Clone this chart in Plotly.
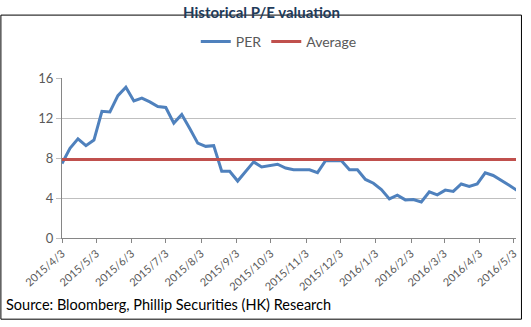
import plotly.graph_objects as go
import pandas as pd

start_date = "2015-04-03"
n_weeks = 58
per_values = [
    7.47, 9.00, 9.94, 9.26, 9.82, 12.71, 12.64, 14.28, 15.12, 13.75,
    14.03, 13.65, 13.18, 13.09, 11.52, 12.39, 10.98, 9.51, 9.19, 9.26,
    6.69, 6.69, 5.71, 6.69, 7.63, 7.12, 7.28, 7.40, 7.02, 6.84,
    6.84, 6.84, 6.55, 7.75, 7.75, 7.75, 6.84, 6.84, 5.87, 5.49,
    4.86, 3.92, 4.29, 3.82, 3.86, 3.61, 4.64, 4.33, 4.80, 4.67,
    5.42, 5.18, 5.42, 6.53, 6.27, 5.80, 5.30, 4.76,
]
average_value = 7.86
tick_dates = pd.date_range("2015-04-03", periods=14, freq=pd.DateOffset(months=1))
tick_labels = [f"{d.year}/{d.month}/{d.day}" for d in tick_dates]
y_ticks = [0, 4, 8, 12, 16]

dates = pd.date_range(start_date, periods=n_weeks, freq="7D")
avg_values = [average_value] * len(dates)

fig = go.Figure()
fig.add_trace(go.Scatter(x=dates, y=per_values, mode="lines", name="PER",
                         line=dict(color="#4F81BD", width=3)))
fig.add_trace(go.Scatter(x=dates, y=avg_values, mode="lines", name="Average",
                         line=dict(color="#C0504D", width=3)))

font_fam = "Lato, 'Open Sans', sans-serif"
fig.update_layout(
    width=531, height=327,
    margin=dict(l=62, r=12, t=68, b=89),
    paper_bgcolor="white", plot_bgcolor="white",
    font=dict(family=font_fam, color="#595959"),
    title=dict(text="<b>Historical P/E valuation</b>", x=(182 + 341) / 2 / 531, xanchor="center",
               y=1 - 13 / 327, yanchor="middle",
               font=dict(size=15, color="#1F3B5A", family=font_fam)),
    showlegend=True,
    legend=dict(orientation="h", xref="container", yref="container",
                x=0.525, xanchor="center", y=1 - 42 / 327, yanchor="middle",
                font=dict(size=14, color="#595959"), entrywidth=0,
                itemwidth=30, bgcolor="rgba(0,0,0,0)"),
    xaxis=dict(type="date", range=[dates[0], pd.Timestamp("2016-05-05")],
               tickvals=tick_dates, ticktext=tick_labels, tickangle=-42,
               tickfont=dict(size=11, color="#595959"),
               showgrid=False, showline=True, linecolor="#868686", linewidth=1,
               ticks="outside", ticklen=4, tickcolor="#868686", zeroline=False),
    yaxis=dict(range=[0, 16], tickvals=y_ticks,
               tickfont=dict(size=13, color="#595959"),
               showgrid=True, gridcolor="#BFBFBF", gridwidth=1,
               showline=True, linecolor="#868686", linewidth=1,
               ticks="outside", ticklen=5, tickcolor="#BFBFBF", zeroline=False),
)

fig.add_shape(type="rect", xref="paper", yref="paper",
              x0=(0.5 - 62) / 457, x1=(524.5 - 62) / 457,
              y0=(238 - 324.5) / 170, y1=(238 - 0.5) / 170,
              line=dict(color="black", width=1), fillcolor="rgba(0,0,0,0)", layer="below")

fig.add_annotation(text="Source: Bloomberg, Phillip Securities (HK) Research",
                   xref="paper", yref="paper", x=(4 - 62) / 457, y=(238 - 309) / 170,
                   xanchor="left", yanchor="middle", showarrow=False,
                   font=dict(size=14.5, color="black", family=font_fam))

fig.write_html("out.html")
